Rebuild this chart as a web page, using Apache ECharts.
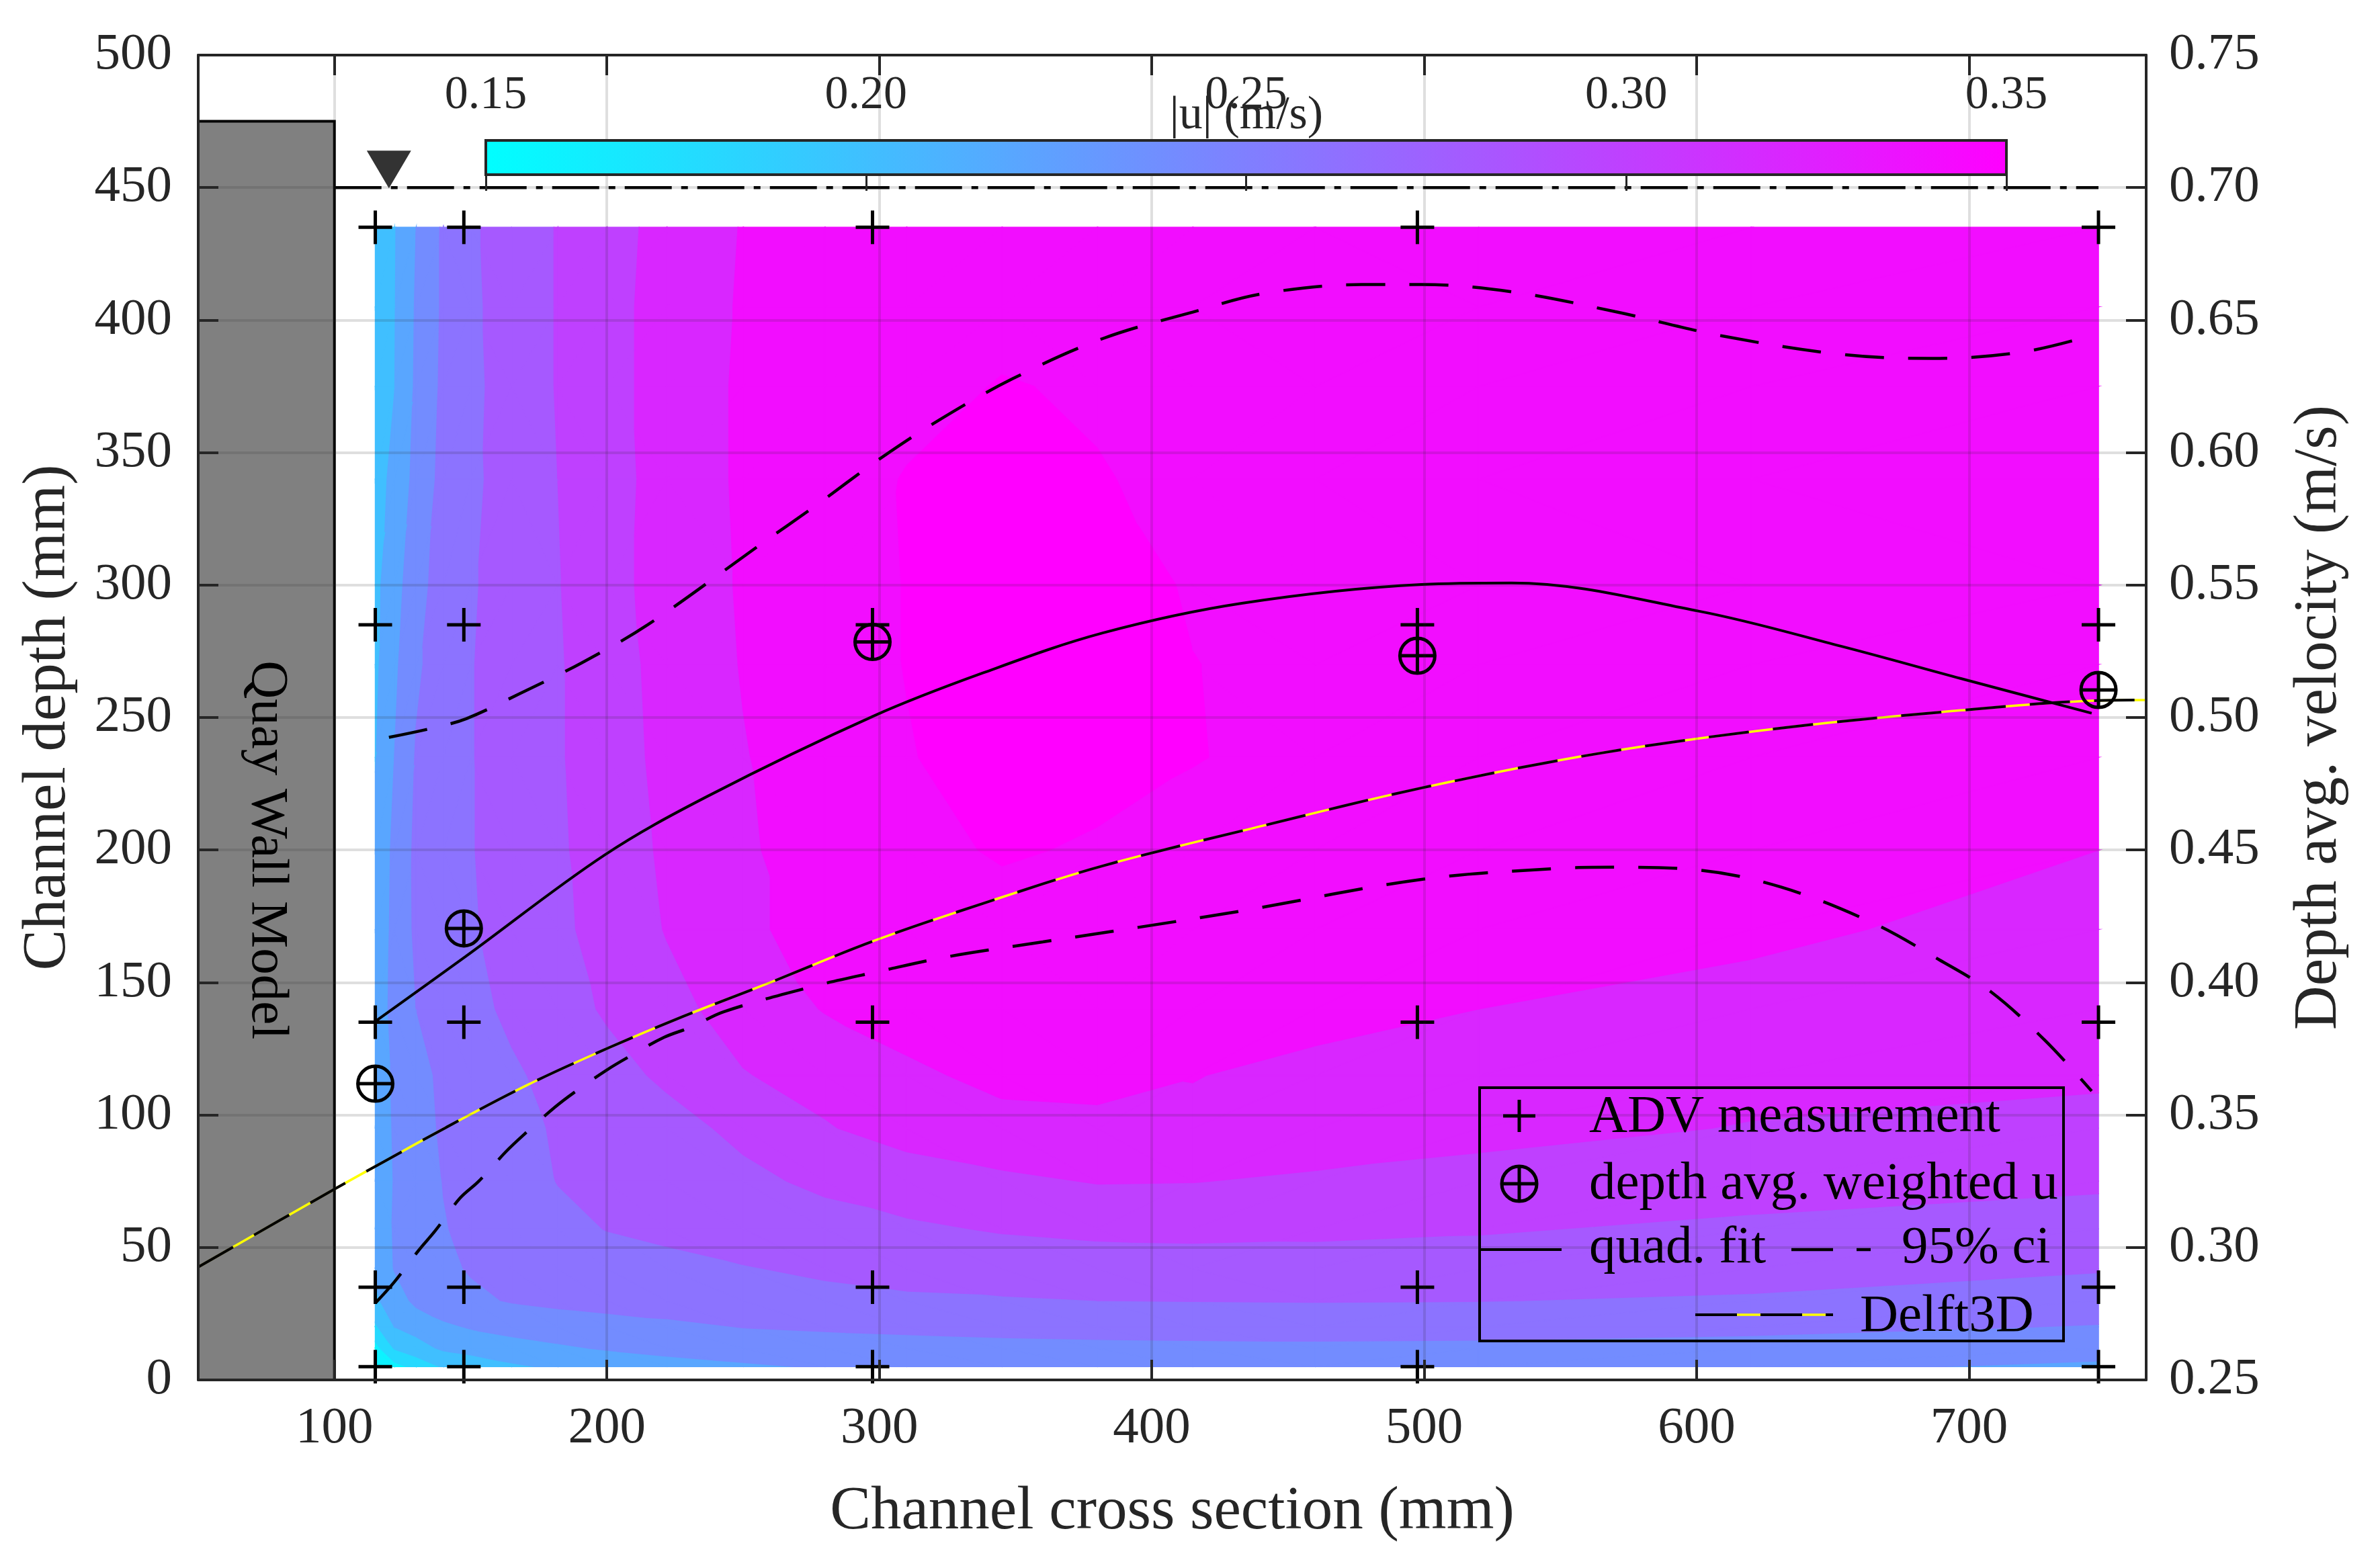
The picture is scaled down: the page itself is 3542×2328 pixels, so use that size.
<!DOCTYPE html>
<html>
<head>
<meta charset="utf-8">
<script src="https://cdn.jsdelivr.net/npm/echarts@6/dist/echarts.min.js"></script>
<style>html,body{margin:0;padding:0;background:#fff}#c{width:3542px;height:2328px}</style>
</head>
<body>
<div id="c"></div>
<script>
// ---------------- data ----------------
// x ticks of the cross-section axis (mm)
const xTicks = [100, 200, 300, 400, 500, 600, 700];
// ADV measurement grid (mm)
const advX = [115, 147.5, 297.5, 497.5, 747.5];
const advY = [5, 35, 135, 285, 435];
// depth-averaged weighted velocity (m/s)
const avgX = [115, 147.5, 297.5, 497.5, 747.5];
const avgU = [0.3618, 0.4204, 0.5285, 0.5233, 0.5104];
// quadratic fit (m/s)
const fitX = [115, 148, 199, 237, 298, 338, 382, 433, 499, 532, 601, 653, 697, 745];
const fitU = [0.3853, 0.4097, 0.448, 0.4703, 0.5006, 0.5168, 0.5319, 0.5431, 0.5502, 0.5508, 0.5401, 0.5269, 0.5147, 0.5016];
// 95% confidence interval, upper (m/s)
const ciUpX = [120, 136, 148.5, 168, 190.5, 215, 256.5, 276, 300, 322.5, 349, 382, 415, 441, 477, 499, 532, 570, 609, 653.5, 686.5, 720, 745];
const ciUpU = [0.4925, 0.496, 0.4996, 0.509, 0.5205, 0.535, 0.5654, 0.5795, 0.5975, 0.6126, 0.6279, 0.643, 0.653, 0.66, 0.6634, 0.6634, 0.6607, 0.6532, 0.6441, 0.637, 0.6355, 0.638, 0.6442];
// 95% confidence interval, lower (m/s)
const ciLoX = [115, 122, 131, 137, 146, 153, 163, 170, 181, 188, 200, 209, 221, 231, 243, 276, 300, 325, 360, 395, 433, 499, 548, 570, 601, 631, 664, 689, 708, 728, 745];
const ciLoU = [0.279, 0.287, 0.299, 0.3063, 0.3185, 0.325, 0.3362, 0.343, 0.353, 0.3585, 0.367, 0.3725, 0.3793, 0.3832, 0.389, 0.3986, 0.4042, 0.4097, 0.4153, 0.4208, 0.427, 0.4389, 0.443, 0.4435, 0.4424, 0.436, 0.4228, 0.4086, 0.3965, 0.378, 0.359];
// Delft3D depth-averaged velocity (m/s)
const delftX = [50, 100, 118, 141, 171, 201, 228, 259, 298, 338, 382, 441, 499, 565, 631, 697, 747, 765];
const delftU = [0.2926, 0.322, 0.3323, 0.3453, 0.3614, 0.3755, 0.3872, 0.3996, 0.4157, 0.4298, 0.444, 0.4592, 0.4734, 0.4866, 0.496, 0.5027, 0.5064, 0.5066];
// velocity magnitude field |u| (m/s) read on a grid: columns gridX, rows gridY
const gridX = [115, 122, 130, 140, 150, 165, 182, 200, 222, 250, 280, 310, 345, 380, 415, 460, 520, 620, 747.5];
const gridY = [5, 12, 20, 30, 42, 57, 75, 95, 115, 140, 170, 200, 235, 270, 300, 340, 375, 405, 435];
const u005 = [0.149, 0.163, 0.1755, 0.1925, 0.1975, 0.2065, 0.2135, 0.2185, 0.2235, 0.2275, 0.2315, 0.2335, 0.2345, 0.235, 0.2355, 0.2355, 0.235, 0.2325, 0.228];
const u012 = [0.163, 0.1915, 0.2025, 0.213, 0.217, 0.2235, 0.2275, 0.2315, 0.235, 0.2385, 0.241, 0.243, 0.2445, 0.2455, 0.246, 0.2465, 0.246, 0.2435, 0.2345];
const u020 = [0.187, 0.21, 0.2165, 0.2265, 0.2315, 0.2355, 0.239, 0.2415, 0.2455, 0.2505, 0.2525, 0.254, 0.2555, 0.2565, 0.257, 0.257, 0.2565, 0.2545, 0.249];
const u030 = [0.207, 0.2195, 0.235, 0.242, 0.246, 0.2515, 0.255, 0.258, 0.26, 0.263, 0.265, 0.2675, 0.2685, 0.27, 0.2705, 0.271, 0.2705, 0.2675, 0.2595];
const u042 = [0.212, 0.231, 0.238, 0.246, 0.2515, 0.255, 0.259, 0.262, 0.265, 0.269, 0.273, 0.276, 0.279, 0.281, 0.282, 0.2825, 0.282, 0.279, 0.2715];
const u057 = [0.214, 0.232, 0.24, 0.249, 0.254, 0.259, 0.265, 0.2705, 0.274, 0.279, 0.283, 0.287, 0.2915, 0.294, 0.2945, 0.2935, 0.2915, 0.2865, 0.2815];
const u075 = [0.216, 0.231, 0.24, 0.2505, 0.255, 0.261, 0.2705, 0.275, 0.28, 0.286, 0.2935, 0.3, 0.306, 0.311, 0.3105, 0.307, 0.303, 0.298, 0.293];
const u095 = [0.217, 0.232, 0.244, 0.252, 0.257, 0.264, 0.272, 0.277, 0.284, 0.294, 0.3085, 0.318, 0.325, 0.326, 0.327, 0.322, 0.316, 0.309, 0.306];
const u115 = [0.218, 0.233, 0.245, 0.253, 0.259, 0.267, 0.276, 0.284, 0.293, 0.309, 0.317, 0.327, 0.334, 0.335, 0.3305, 0.326, 0.321, 0.316, 0.312];
const u140 = [0.218, 0.236, 0.25, 0.257, 0.264, 0.274, 0.283, 0.292, 0.304, 0.318, 0.331, 0.337, 0.34, 0.341, 0.339, 0.335, 0.33, 0.325, 0.318];
const u170 = [0.216, 0.235, 0.2535, 0.261, 0.268, 0.277, 0.286, 0.297, 0.311, 0.328, 0.334, 0.338, 0.342, 0.343, 0.342, 0.34, 0.337, 0.333, 0.324];
const u200 = [0.215, 0.234, 0.254, 0.261, 0.269, 0.278, 0.287, 0.2995, 0.313, 0.328, 0.337, 0.344, 0.352, 0.348, 0.345, 0.344, 0.342, 0.337, 0.33];
const u235 = [0.209, 0.23, 0.2515, 0.26, 0.269, 0.279, 0.288, 0.301, 0.315, 0.329, 0.34, 0.349, 0.357, 0.356, 0.3506, 0.346, 0.345, 0.343, 0.341];
const u270 = [0.206, 0.226, 0.247, 0.259, 0.269, 0.279, 0.288, 0.302, 0.316, 0.331, 0.342, 0.3505, 0.36, 0.358, 0.3503, 0.346, 0.345, 0.343, 0.341];
const u300 = [0.205, 0.222, 0.2425, 0.259, 0.268, 0.278, 0.289, 0.304, 0.317, 0.332, 0.343, 0.3505, 0.359, 0.357, 0.3485, 0.346, 0.345, 0.343, 0.341];
const u340 = [0.202, 0.215, 0.236, 0.256, 0.266, 0.278, 0.29, 0.303, 0.317, 0.333, 0.341, 0.351, 0.357, 0.351, 0.346, 0.345, 0.344, 0.342, 0.34];
const u375 = [0.198, 0.2095, 0.233, 0.254, 0.265, 0.279, 0.291, 0.304, 0.317, 0.333, 0.338, 0.344, 0.351, 0.348, 0.346, 0.345, 0.344, 0.342, 0.34];
const u405 = [0.197, 0.209, 0.232, 0.253, 0.266, 0.279, 0.291, 0.304, 0.317, 0.332, 0.337, 0.341, 0.344, 0.345, 0.345, 0.345, 0.344, 0.342, 0.34];
const u435 = [0.196, 0.2085, 0.23, 0.253, 0.267, 0.279, 0.291, 0.303, 0.316, 0.331, 0.336, 0.339, 0.341, 0.342, 0.343, 0.344, 0.344, 0.342, 0.34];
// contour levels and colour limits (m/s)
const contourLevels = [0.15, 0.17, 0.19, 0.21, 0.23, 0.25, 0.27, 0.29, 0.31, 0.33, 0.35];
const colorLimits = [0.15, 0.35];
// scene elements (mm)
const wallX = [50, 100];
const wallTop = 475;
const waterLevel = 450;
const waterX = [100, 747.5];
const waterMarkX = 120;
// legend entries
const legendLabels = ['ADV measurement', 'depth avg. weighted u', 'quad. fit', '95% ci', 'Delft3D'];

// ---------------- helpers ----------------
const speedGrid = [u005, u012, u020, u030, u042, u057, u075, u095, u115, u140, u170, u200, u235, u270, u300, u340, u375, u405, u435];
const FONT = 'Liberation Serif';
const AX = '#262626';
const GRIDLINE = 'rgba(38,38,38,0.15)';
function cool(t) {
  t = Math.max(0, Math.min(1, t));
  return 'rgb(' + Math.round(255 * t) + ',' + Math.round(255 * (1 - t)) + ',255)';
}
const bandEdges = [-Infinity].concat(contourLevels, [Infinity]);
const bandColors = [];
for (let k = 0; k < bandEdges.length - 1; k++) {
  const lo = bandEdges[k], hi = bandEdges[k + 1];
  let t;
  if (!isFinite(lo)) t = 0;
  else if (!isFinite(hi)) t = 1;
  else t = ((lo + hi) / 2 - colorLimits[0]) / (colorLimits[1] - colorLimits[0]);
  bandColors.push(cool(t));
}
function clipPoly(poly, level, keepAbove) {
  const out = [];
  for (let k = 0; k < poly.length; k++) {
    const a = poly[k], b = poly[(k + 1) % poly.length];
    const fa = keepAbove ? a[2] - level : level - a[2];
    const fb = keepAbove ? b[2] - level : level - b[2];
    if (fa >= 0) out.push(a);
    if ((fa >= 0) !== (fb >= 0)) {
      const t = fa / (fa - fb);
      out.push([a[0] + t * (b[0] - a[0]), a[1] + t * (b[1] - a[1]), a[2] + t * (b[2] - a[2])]);
    }
  }
  return out;
}
const cells = [];
for (let j = 0; j < gridY.length - 1; j++) {
  for (let i = 0; i < gridX.length - 1; i++) cells.push([gridX[i], gridY[j], i, j]);
}
const zip = (xs, ys) => xs.map((x, i) => [x, ys[i]]);
const advPoints = [];
advY.forEach(y => advX.forEach(x => advPoints.push([x, y])));

const chart = echarts.init(document.getElementById('c'), null, {renderer: 'canvas', width: 3542, height: 2328});

const PLUS = 25;
function plusShape(cx, cy, h, lw) {
  return [
    {type: 'line', shape: {x1: cx - h, y1: cy, x2: cx + h, y2: cy}, style: {stroke: '#000', lineWidth: lw}},
    {type: 'line', shape: {x1: cx, y1: cy - h, x2: cx, y2: cy + h}, style: {stroke: '#000', lineWidth: lw}}
  ];
}
function oplusShape(cx, cy, r, lw) {
  return [{type: 'circle', shape: {cx: cx, cy: cy, r: r}, style: {fill: 'none', stroke: '#000', lineWidth: lw}}]
    .concat(plusShape(cx, cy, r, lw));
}

const tickStyle = {color: AX, width: 4};
const labelStyle = {fontSize: 77, fontFamily: FONT, color: AX};
const nameStyle = {fontSize: 91, fontFamily: FONT, color: AX};
const SMOOTH = 0.35;

// legend (graphic elements, flat list)
const LF = 79;
const legendText = (t, x, y) => ({type: 'text', x: x, y: y, style: {text: t, fontSize: LF, fontFamily: FONT, fill: '#000', align: 'left', verticalAlign: 'middle'}});
const legendEls = [
  {type: 'rect', shape: {x: 2202, y: 1619, width: 869, height: 377}, style: {fill: 'rgba(0,0,0,0)', stroke: '#000', lineWidth: 4}},
  ...plusShape(2261, 1661, 24, 5),
  legendText(legendLabels[0], 2365, 1663),
  ...oplusShape(2261, 1762, 26, 5),
  legendText(legendLabels[1], 2365, 1763),
  {type: 'line', shape: {x1: 2204, y1: 1860, x2: 2324, y2: 1860}, style: {stroke: '#000', lineWidth: 4}},
  legendText(legendLabels[2], 2365, 1858),
  {type: 'line', shape: {x1: 2666, y1: 1860, x2: 2784, y2: 1860}, style: {stroke: '#000', lineWidth: 4.5, lineDash: [62, 35]}},
  legendText(legendLabels[3], 2830, 1858),
  {type: 'line', shape: {x1: 2523, y1: 1957, x2: 2728, y2: 1957}, style: {stroke: '#ffff00', lineWidth: 3.5}},
  {type: 'line', shape: {x1: 2523, y1: 1957, x2: 2728, y2: 1957}, style: {stroke: '#000', lineWidth: 4, lineDash: [62, 35]}},
  legendText(legendLabels[4], 2768, 1960)
].map(el => Object.assign({z: 30, silent: true}, el));

const option = {
  animation: false,
  backgroundColor: '#fff',
  grid: [
    {left: 295, top: 82, width: 2899, height: 1972, outerBoundsMode: 'none'},
    {left: 723, top: 209, width: 2263, height: 51, outerBoundsMode: 'none'}
  ],
  xAxis: [
    {
      type: 'value', gridIndex: 0, min: 50, max: 765, position: 'bottom', z: 10,
      axisLine: {show: true, onZero: false, lineStyle: tickStyle},
      axisTick: {show: true, inside: true, length: 30, customValues: xTicks, lineStyle: tickStyle},
      axisLabel: {show: true, customValues: xTicks, margin: 34, ...labelStyle},
      splitLine: {show: true, lineStyle: {color: GRIDLINE, width: 4}},
      name: 'Channel cross section (mm)', nameLocation: 'middle', nameGap: 152, nameTextStyle: nameStyle
    },
    {
      type: 'value', gridIndex: 0, min: 50, max: 765, position: 'top', z: 10,
      axisLine: {show: true, onZero: false, lineStyle: tickStyle},
      axisTick: {show: true, inside: true, length: 30, customValues: xTicks, lineStyle: tickStyle},
      axisLabel: {show: false},
      splitLine: {show: false}
    },
    {
      type: 'value', gridIndex: 1, min: colorLimits[0], max: colorLimits[1], interval: 0.05, position: 'top', z: 12,
      axisLine: {show: false},
      axisTick: {show: true, inside: true, length: 24, lineStyle: {color: AX, width: 3}},
      axisLabel: {show: true, margin: 31, fontSize: 70, fontFamily: FONT, color: AX, formatter: v => v.toFixed(2)},
      splitLine: {show: false}
    }
  ],
  yAxis: [
    {
      type: 'value', gridIndex: 0, min: 0, max: 500, interval: 50, position: 'left', z: 10,
      axisLine: {show: true, onZero: false, lineStyle: tickStyle},
      axisTick: {show: true, inside: true, length: 30, lineStyle: tickStyle},
      axisLabel: {show: true, margin: 39, ...labelStyle},
      splitLine: {show: true, lineStyle: {color: GRIDLINE, width: 4}},
      name: 'Channel depth (mm)', nameLocation: 'middle', nameRotate: 90, nameGap: 177, nameTextStyle: nameStyle
    },
    {
      type: 'value', gridIndex: 0, min: 0.25, max: 0.75, interval: 0.05, position: 'right', z: 10,
      axisLine: {show: true, onZero: false, lineStyle: tickStyle},
      axisTick: {show: true, inside: true, length: 30, lineStyle: tickStyle},
      axisLabel: {show: true, margin: 34, ...labelStyle, formatter: v => v.toFixed(2)},
      splitLine: {show: false},
      name: 'Depth avg. velocity (m/s)', nameLocation: 'middle', nameRotate: 90, nameGap: 213, nameTextStyle: nameStyle
    },
    {type: 'value', gridIndex: 1, min: 0, max: 1, show: false}
  ],
  series: [
    // filled contour of |u|
    {
      type: 'custom', name: '|u|', xAxisIndex: 0, yAxisIndex: 0, z: 1, silent: true, clip: true,
      data: cells, encode: {x: 0, y: 1},
      renderItem: function (params, api) {
        const i = api.value(2), j = api.value(3);
        const P = (ii, jj) => [gridX[ii], gridY[jj], speedGrid[jj][ii]];
        const a = P(i, j), b = P(i + 1, j), c = P(i + 1, j + 1), d = P(i, j + 1);
        const tris = Math.abs(a[2] - c[2]) <= Math.abs(b[2] - d[2]) ? [[a, b, c], [a, c, d]] : [[a, b, d], [b, c, d]];
        const children = [];
        tris.forEach(tri => {
          const vs = tri.map(p => p[2]);
          const vmin = Math.min.apply(null, vs), vmax = Math.max.apply(null, vs);
          for (let k = 0; k < bandEdges.length - 1; k++) {
            const lo = bandEdges[k], hi = bandEdges[k + 1];
            if (hi <= vmin || lo > vmax) continue;
            let poly = tri;
            if (isFinite(lo)) poly = clipPoly(poly, lo, true);
            if (poly.length >= 3 && isFinite(hi)) poly = clipPoly(poly, hi, false);
            if (poly.length < 3) continue;
            children.push({
              type: 'polygon',
              shape: {points: poly.map(p => api.coord([p[0], p[1]]))},
              style: {fill: bandColors[k], stroke: bandColors[k], lineWidth: 1.5}
            });
          }
        });
        return {type: 'group', children: children};
      }
    },
    // quay wall model
    {
      type: 'custom', name: 'wall', xAxisIndex: 0, yAxisIndex: 0, z: 2, silent: true, clip: true,
      data: [[wallX[0], 0, wallX[1], wallTop]], encode: {x: [0, 2], y: [1, 3]},
      renderItem: function (params, api) {
        const p0 = api.coord([api.value(0), api.value(1)]);
        const p1 = api.coord([api.value(2), api.value(3)]);
        const cx = (p0[0] + p1[0]) / 2;
        const cy = api.coord([0, 200])[1];
        return {type: 'group', children: [
          {type: 'rect', shape: {x: p0[0], y: p1[1], width: p1[0] - p0[0], height: p0[1] - p1[1]},
           style: {fill: '#808080', stroke: '#000', lineWidth: 4}},
          {type: 'text', x: cx, y: cy, rotation: -Math.PI / 2,
           style: {text: 'Quay Wall Model', fontSize: 79, fontFamily: FONT, fill: '#000', align: 'center', verticalAlign: 'middle'}}
        ]};
      }
    },
    // Delft3D (yellow under black dashes)
    {
      type: 'line', name: 'Delft3D', xAxisIndex: 0, yAxisIndex: 1, z: 3, silent: true,
      data: zip(delftX, delftU), showSymbol: false, smooth: SMOOTH,
      lineStyle: {color: '#ffff00', width: 3.5}
    },
    {
      type: 'line', name: 'Delft3D dash', xAxisIndex: 0, yAxisIndex: 1, z: 4, silent: true,
      data: zip(delftX, delftU), showSymbol: false, smooth: SMOOTH,
      lineStyle: {color: '#000', width: 4, type: [60, 36], cap: 'butt'}
    },
    // quad fit
    {
      type: 'line', name: 'quad. fit', xAxisIndex: 0, yAxisIndex: 1, z: 4, silent: true,
      data: zip(fitX, fitU), showSymbol: false, smooth: SMOOTH,
      lineStyle: {color: '#000', width: 4}
    },
    // 95% ci
    {
      type: 'line', name: '95% ci upper', xAxisIndex: 0, yAxisIndex: 1, z: 4, silent: true,
      data: zip(ciUpX, ciUpU), showSymbol: false, smooth: SMOOTH,
      lineStyle: {color: '#000', width: 4.5, type: [58, 36], cap: 'butt'}
    },
    {
      type: 'line', name: '95% ci lower', xAxisIndex: 0, yAxisIndex: 1, z: 4, silent: true,
      data: zip(ciLoX, ciLoU), showSymbol: false, smooth: SMOOTH,
      lineStyle: {color: '#000', width: 4.5, type: [58, 36], cap: 'butt'}
    },
    // water level
    {
      type: 'line', name: 'water level', xAxisIndex: 0, yAxisIndex: 0, z: 5, silent: true,
      data: waterX.map(x => [x, waterLevel]), showSymbol: false,
      lineStyle: {color: '#000', width: 4.5, type: [70, 14, 10, 14], cap: 'butt'}
    },
    {
      type: 'scatter', name: 'water mark', xAxisIndex: 0, yAxisIndex: 0, z: 5, silent: true,
      data: [[waterMarkX, waterLevel]], symbol: 'triangle', symbolRotate: 180,
      symbolSize: [66, 56], symbolOffset: [0, -27], itemStyle: {color: '#000'}
    },
    // ADV measurement points
    {
      type: 'custom', name: 'ADV measurement', xAxisIndex: 0, yAxisIndex: 0, z: 6, silent: true, clip: false,
      data: advPoints, encode: {x: 0, y: 1},
      renderItem: function (params, api) {
        const p = api.coord([api.value(0), api.value(1)]);
        return {type: 'group', children: plusShape(p[0], p[1], PLUS, 5)};
      }
    },
    // depth avg. weighted u
    {
      type: 'custom', name: 'depth avg. weighted u', xAxisIndex: 0, yAxisIndex: 1, z: 6, silent: true, clip: false,
      data: zip(avgX, avgU), encode: {x: 0, y: 1},
      renderItem: function (params, api) {
        const p = api.coord([api.value(0), api.value(1)]);
        return {type: 'group', children: oplusShape(p[0], p[1], 26, 5)};
      }
    },
    // colorbar
    {
      type: 'custom', name: 'colorbar', xAxisIndex: 2, yAxisIndex: 2, z: 11, silent: true, clip: false,
      data: [[colorLimits[0], 0, colorLimits[1], 1]], encode: {x: [0, 2], y: [1, 3]},
      renderItem: function (params, api) {
        const p0 = api.coord([api.value(0), api.value(1)]);
        const p1 = api.coord([api.value(2), api.value(3)]);
        return {
          type: 'rect',
          shape: {x: p0[0], y: p1[1], width: p1[0] - p0[0], height: p0[1] - p1[1]},
          style: {
            fill: new echarts.graphic.LinearGradient(0, 0, 1, 0, [
              {offset: 0, color: cool(0)}, {offset: 1, color: cool(1)}
            ]),
            stroke: AX, lineWidth: 4
          }
        };
      }
    }
  ],
  graphic: {
    elements: [
      {
        type: 'text', z: 30, silent: true, x: 1855, y: 173,
        style: {text: '|u| (m/s)', fontSize: 70, fontFamily: FONT, fill: AX, align: 'center', verticalAlign: 'middle'}
      }
    ].concat(legendEls)
  }
};
chart.setOption(option);
</script>
</body>
</html>
